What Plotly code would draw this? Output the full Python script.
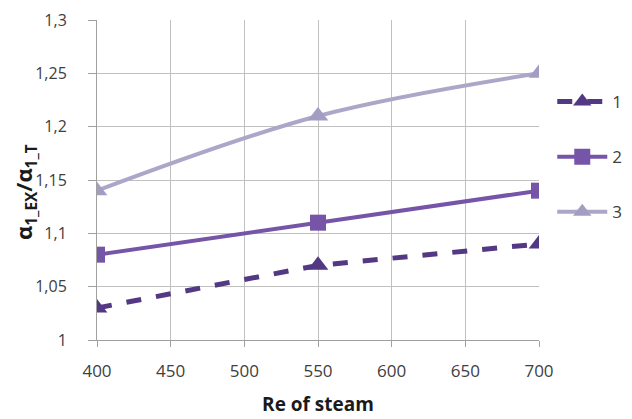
import plotly.graph_objects as go

re_steam = [400, 550, 700]
series1 = [1.03, 1.07, 1.09]
series2 = [1.08, 1.11, 1.14]
series3 = [1.14, 1.21, 1.25]
names = ["1", "2", "3"]
x_ticks = [400, 450, 500, 550, 600, 650, 700]
y_ticks = [1, 1.05, 1.1, 1.15, 1.2, 1.25, 1.3]
y_labels = ["1", "1,05", "1,1", "1,15", "1,2", "1,25", "1,3"]
y_title = "<b>α<sub>1_EX</sub>/α<sub>1_T</sub></b>"

fig = go.Figure()
fig.add_trace(go.Scatter(x=re_steam, y=series1, name=names[0], mode="lines+markers",
                         line=dict(color="#533884", width=5, dash="dash"),
                         marker=dict(symbol="triangle-up", size=18, color="#533884"),
                         legendgroup="a"))
fig.add_trace(go.Scatter(x=re_steam, y=series2, name=names[1], mode="lines+markers",
                         line=dict(color="#7654a8", width=4),
                         marker=dict(symbol="square", size=16, color="#7654a8"),
                         legendgroup="b"))
fig.add_trace(go.Scatter(x=re_steam, y=series3, name=names[2], mode="lines+markers",
                         line=dict(color="#aca7c8", width=4, shape="spline"),
                         marker=dict(symbol="triangle-up", size=18, color="#a39dc3"),
                         legendgroup="c"))

fig.add_annotation(text=y_title, xref="paper", yref="paper", x=-0.163, y=0.4625,
                   xanchor="center", yanchor="middle", textangle=-90, showarrow=False,
                   font=dict(size=22, color="#1a1a1a"))

fig.update_layout(
    width=624, height=411,
    margin=dict(l=89, r=93, t=12, b=79, autoexpand=False),
    paper_bgcolor="white", plot_bgcolor="white",
    font=dict(family="Open Sans, Liberation Sans, sans-serif", size=16, color="#404040"),
    legend=dict(x=1.03, y=0.80, xanchor="left", yanchor="top", tracegroupgap=30,
                itemwidth=50,
                font=dict(size=17, color="#404040"), bgcolor="rgba(0,0,0,0)"),
    xaxis=dict(range=[400, 700], tickvals=x_ticks, showgrid=True, gridcolor="#c0c0c0",
               gridwidth=1, showline=True, linecolor="#a0a0a0", ticks="outside",
               ticklen=6, tickcolor="#a0a0a0", zeroline=False, ticklabelstandoff=10,
               ticklabeloverflow="allow",
               tickfont=dict(size=17, color="#404040"),
               title=dict(text="<b>Re of steam</b>", font=dict(size=19, color="#1a1a1a"), standoff=16)),
    yaxis=dict(range=[1, 1.3], tickvals=y_ticks, ticktext=y_labels, showgrid=True,
               gridcolor="#c0c0c0", gridwidth=1, showline=True, linecolor="#a0a0a0",
               ticks="outside", ticklen=8, tickcolor="#a0a0a0", zeroline=False,
               ticklabelstandoff=18, ticklabeloverflow="allow",
               tickfont=dict(size=16, color="#404040")),
)
fig.write_html("out.html")
